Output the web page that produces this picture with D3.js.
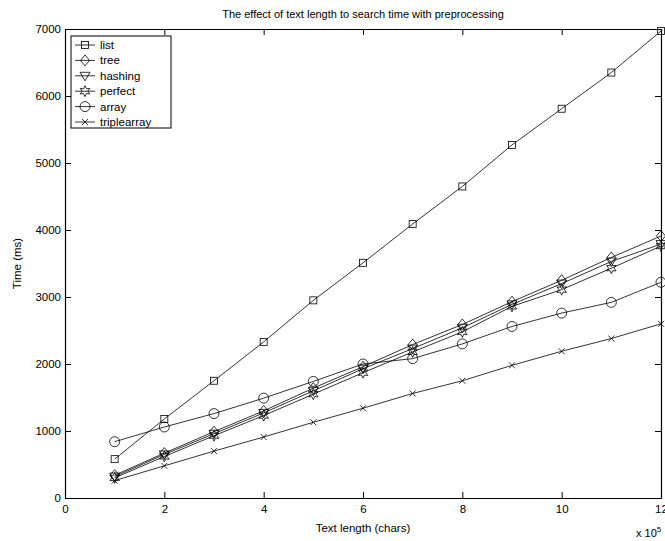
<!DOCTYPE html>
<html>
<head>
<meta charset="utf-8">
<script src="https://cdn.jsdelivr.net/npm/d3@7"></script>
<style>
  body { margin: 0; background: #fff; }
  text { font-family: "Liberation Sans", Arial, sans-serif; fill: #000; }
</style>
</head>
<body>
<div id="chart"></div>
<script>
var xs = [1, 2, 3, 4, 5, 6, 7, 8, 9, 10, 11, 12];
var list = [580, 1180, 1750, 2330, 2950, 3510, 4090, 4650, 5270, 5810, 6350, 6970];
var tree = [340, 670, 990, 1300, 1640, 1960, 2290, 2590, 2930, 3250, 3590, 3910];
var hashing = [320, 650, 960, 1270, 1600, 1930, 2230, 2540, 2890, 3200, 3530, 3790];
var perfect = [300, 620, 930, 1230, 1550, 1870, 2180, 2480, 2860, 3110, 3430, 3760];
var array = [840, 1060, 1260, 1490, 1740, 2000, 2080, 2300, 2560, 2760, 2920, 3220];
var triplearray = [260, 480, 700, 910, 1130, 1340, 1560, 1750, 1980, 2190, 2380, 2600];
var seriesNames = ["list", "tree", "hashing", "perfect", "array", "triplearray"];
var markers = ["square", "diamond", "triangle", "hexagram", "circle", "cross"];
var xTicks = [0, 2, 4, 6, 8, 10, 12];
var yTicks = [0, 1000, 2000, 3000, 4000, 5000, 6000, 7000];

function init() {
    var w = 665, h = 541;
    var left = 65, right = 661, top = 29, bottom = 498;
    var allSeries = [list, tree, hashing, perfect, array, triplearray];

    var x = d3.scaleLinear().domain([0, 12]).range([left, right]);
    var y = d3.scaleLinear().domain([0, 7000]).range([bottom, top]);

    var svg = d3.select("#chart").append("svg")
        .attr("width", w)
        .attr("height", h);

    // axes (ticks pointing inward, box on all sides)
    svg.append("g")
        .attr("transform", "translate(0," + bottom + ")")
        .call(d3.axisBottom(x).tickValues(xTicks).tickSizeInner(-6).tickSizeOuter(0).tickPadding(7).tickFormat(d3.format("d")));
    svg.append("g")
        .attr("transform", "translate(0," + top + ")")
        .call(d3.axisTop(x).tickValues(xTicks).tickSizeInner(-6).tickSizeOuter(0).tickFormat(""));
    svg.append("g")
        .attr("transform", "translate(" + left + ",0)")
        .call(d3.axisLeft(y).tickValues(yTicks).tickSizeInner(-6).tickSizeOuter(0).tickPadding(4).tickFormat(d3.format("d")));
    svg.append("g")
        .attr("transform", "translate(" + right + ",0)")
        .call(d3.axisRight(y).tickValues(yTicks).tickSizeInner(-6).tickSizeOuter(0).tickFormat(""));

    svg.selectAll(".domain").attr("stroke", "#000").attr("stroke-width", 1.2);
    svg.selectAll(".tick line").attr("stroke", "#000");
    svg.selectAll(".tick text").style("font-size", "11.5px").style("font-family", "Liberation Sans, Arial, sans-serif");

    svg.append("text")
        .attr("x", (left + right) / 2).attr("y", 18)
        .attr("text-anchor", "middle")
        .style("font-size", "11px")
        .text("The effect of text length to search time with preprocessing");
    svg.append("text")
        .attr("x", (left + right) / 2).attr("y", 532)
        .attr("text-anchor", "middle")
        .style("font-size", "11.5px")
        .text("Text length (chars)");
    svg.append("text")
        .attr("transform", "translate(21," + (top + bottom) / 2 + ") rotate(-90)")
        .attr("text-anchor", "middle")
        .style("font-size", "11.5px")
        .text("Time (ms)");
    var mult = svg.append("text")
        .attr("x", 636).attr("y", 537)
        .style("font-size", "11px")
        .text("x 10");
    mult.append("tspan").attr("dy", -5).style("font-size", "8px").text("5");

    function drawMarker(g, type, cx, cy) {
        var s;
        if (type === "square") {
            g.append("rect").attr("x", cx - 3.5).attr("y", cy - 3.5).attr("width", 7).attr("height", 7);
        } else if (type === "diamond") {
            g.append("path").attr("d", "M" + cx + "," + (cy - 5.5) + "L" + (cx + 4.5) + "," + cy +
                "L" + cx + "," + (cy + 5.5) + "L" + (cx - 4.5) + "," + cy + "Z");
        } else if (type === "triangle") {
            g.append("path").attr("d", "M" + (cx - 5) + "," + (cy - 3.5) + "L" + (cx + 5) + "," + (cy - 3.5) +
                "L" + cx + "," + (cy + 5) + "Z");
        } else if (type === "hexagram") {
            var pts = [];
            for (var i = 0; i < 12; i++) {
                var r = i % 2 === 0 ? 5.5 : 2.8;
                var a = -Math.PI / 2 + i * Math.PI / 6;
                pts.push([cx + r * Math.cos(a), cy + r * Math.sin(a)]);
            }
            g.append("path").attr("d", "M" + pts.join("L") + "Z");
        } else if (type === "circle") {
            g.append("circle").attr("cx", cx).attr("cy", cy).attr("r", 5);
        } else if (type === "cross") {
            s = 3;
            g.append("path").attr("d", "M" + (cx - s) + "," + (cy - s) + "L" + (cx + s) + "," + (cy + s) +
                "M" + (cx - s) + "," + (cy + s) + "L" + (cx + s) + "," + (cy - s));
        }
    }

    var line = d3.line()
        .x(function(d, i) { return x(xs[i]); })
        .y(function(d) { return y(d); });

    allSeries.forEach(function(vals, k) {
        var g = svg.append("g").attr("fill", "none").attr("stroke", "#000").attr("stroke-width", 0.8);
        g.append("path").attr("d", line(vals));
        vals.forEach(function(v, i) {
            drawMarker(g, markers[k], x(xs[i]), y(v));
        });
    });

    // legend
    var lg = svg.append("g");
    lg.append("rect")
        .attr("x", 71).attr("y", 36).attr("width", 100).attr("height", 92)
        .attr("fill", "#fff").attr("stroke", "#000").attr("stroke-width", 1);
    seriesNames.forEach(function(name, k) {
        var ly = 45 + k * 15.4;
        var g = lg.append("g").attr("fill", "none").attr("stroke", "#000").attr("stroke-width", 0.8);
        g.append("path").attr("d", "M75," + ly + "L95," + ly);
        drawMarker(g, markers[k], 85, ly);
        lg.append("text")
            .attr("x", 100).attr("y", ly + 4)
            .style("font-size", "11.5px")
            .text(name);
    });
}

window.onload = init;
</script>
</body>
</html>
